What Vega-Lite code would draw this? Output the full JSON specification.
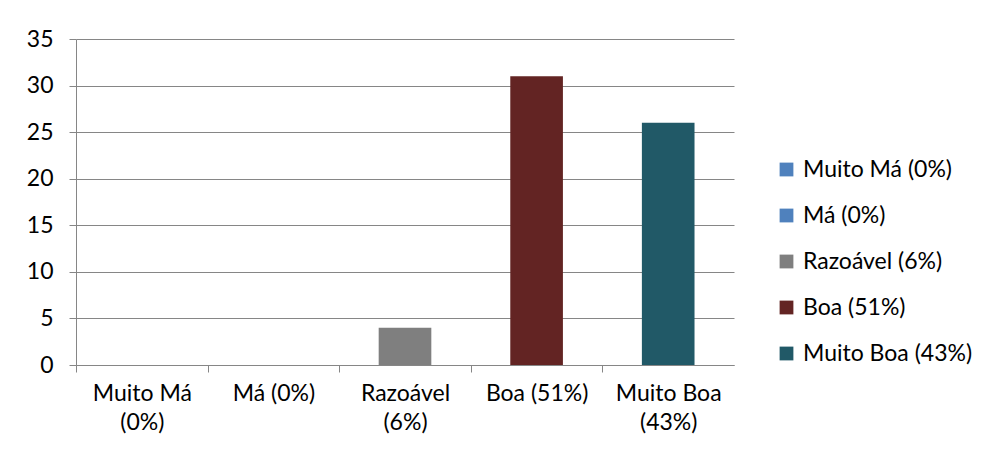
{
  "$schema": "https://vega.github.io/schema/vega-lite/v6.json",
  "width": 658,
  "height": 326,
  "padding": {"left": 26, "top": 28, "right": 5, "bottom": 5},
  "background": "white",
  "config": {
    "font": "Lato",
    "view": {"stroke": null},
    "axis": {"labelFont": "Lato", "labelFontSize": 23, "labelColor": "#000000"}
  },
  "data": {
    "values": [
      {"categoria": "Muito Má (0%)", "valor": 0},
      {"categoria": "Má (0%)", "valor": 0},
      {"categoria": "Razoável (6%)", "valor": 4},
      {"categoria": "Boa (51%)", "valor": 31},
      {"categoria": "Muito Boa (43%)", "valor": 26}
    ]
  },
  "mark": {"type": "bar"},
  "encoding": {
    "x": {
      "field": "categoria",
      "type": "nominal",
      "sort": ["Muito Má (0%)", "Má (0%)", "Razoável (6%)", "Boa (51%)", "Muito Boa (43%)"],
      "scale": {"paddingInner": 0.6, "paddingOuter": 0.3},
      "axis": {
        "title": null,
        "labelAngle": 0,
        "domainColor": "#868686",
        "tickColor": "#868686",
        "tickSize": 7,
        "tickOffset": -65.8,
        "labelOffset": 65.8,
        "labelPadding": 10,
        "labelLineHeight": 29,
        "labelExpr": "datum.value == 'Má (0%)' || datum.value == 'Boa (51%)' ? datum.value : split(replace(datum.value, ' (', '|('), '|')"
      }
    },
    "y": {
      "field": "valor",
      "type": "quantitative",
      "scale": {"domain": [0, 35]},
      "axis": {
        "title": null,
        "values": [0, 5, 10, 15, 20, 25, 30, 35],
        "grid": true,
        "gridColor": "#868686",
        "domainColor": "#868686",
        "tickColor": "#868686",
        "tickSize": 7,
        "labelPadding": 16
      }
    },
    "color": {
      "field": "categoria",
      "type": "nominal",
      "scale": {
        "domain": ["Muito Má (0%)", "Má (0%)", "Razoável (6%)", "Boa (51%)", "Muito Boa (43%)"],
        "range": ["#4F81BD", "#4F81BD", "#7F7F7F", "#632423", "#215967"]
      },
      "legend": {
        "title": null,
        "orient": "none",
        "legendX": 699,
        "legendY": 119,
        "padding": 0,
        "symbolType": "square",
        "symbolSize": 190,
        "symbolStrokeWidth": 0,
        "symbolOpacity": 1,
        "labelFont": "Lato",
        "labelFontSize": 23,
        "labelColor": "#000000",
        "labelOffset": 5,
        "labelLimit": 400,
        "rowPadding": 22
      }
    }
  }
}
